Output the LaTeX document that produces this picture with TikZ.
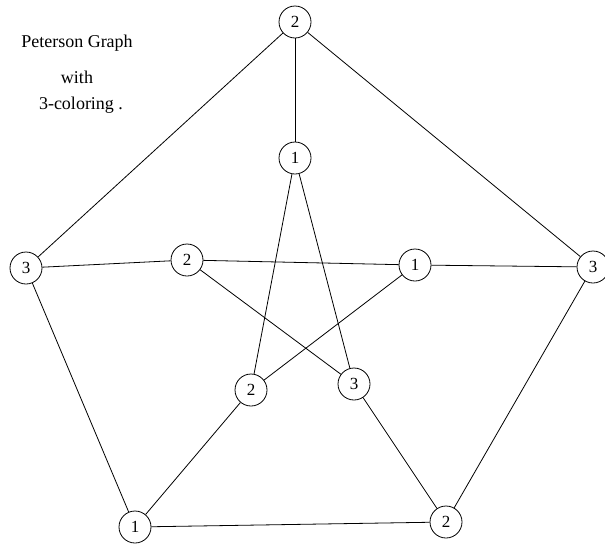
\documentclass[tikz,border=0pt]{standalone}
\usepackage{fontspec}
\setmainfont{Liberation Serif}
\begin{document}
\begin{tikzpicture}[x=1pt,y=-1pt,
  vtx/.style={circle,draw,line width=0.8pt,minimum size=32pt,inner sep=0pt,fill=white,font=\fontsize{17}{19}\selectfont},
  edge/.style={line width=0.8pt},
  lbl/.style={font=\fontsize{18}{20}\selectfont}]
\useasboundingbox (0,0) rectangle (605,544);
\node[vtx] (ot) at (295,22) {2};
\node[vtx] (ol) at (26,268) {3};
\node[vtx] (or) at (593,267) {3};
\node[vtx] (obl) at (135,527) {1};
\node[vtx] (obr) at (446,522) {2};
\node[vtx] (it) at (295,158) {1};
\node[vtx] (il) at (187,260) {2};
\node[vtx] (ir) at (415,265) {1};
\node[vtx] (ibl) at (251,390) {2};
\node[vtx] (ibr) at (354,384) {3};
\draw[edge] (ot) -- (ol);
\draw[edge] (ot) -- (or);
\draw[edge] (ol) -- (obl);
\draw[edge] (or) -- (obr);
\draw[edge] (obl) -- (obr);
\draw[edge] (ot) -- (it);
\draw[edge] (ol) -- (il);
\draw[edge] (or) -- (ir);
\draw[edge] (obl) -- (ibl);
\draw[edge] (obr) -- (ibr);
\draw[edge] (it) -- (ibl);
\draw[edge] (it) -- (ibr);
\draw[edge] (il) -- (ir);
\draw[edge] (il) -- (ibr);
\draw[edge] (ir) -- (ibl);
\node[lbl] (t1) at (77,43) {Peterson Graph};
\node[lbl] (t2) at (77,77) {with};
\node[lbl] (t3) at (81,105) {3-coloring .};
\end{tikzpicture}
\end{document}
